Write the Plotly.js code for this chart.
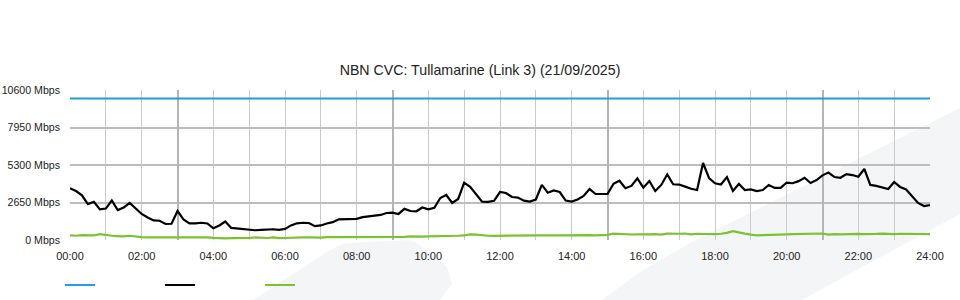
<!DOCTYPE html>
<html>
<head>
<meta charset="utf-8">
<script src="https://cdn.plot.ly/plotly-3.0.1.min.js"></script>
<style>html,body{margin:0;padding:0;background:#fff;}#chart{width:960px;height:300px;}</style>
</head>
<body>
<div id="chart"></div>
<script>
// Sample times: every 10 minutes, in hours from 00:00 to 24:00
const sampleStepMinutes = 10;
const sampleCount = 145;
const times = [];
for (let i = 0; i < sampleCount; i++) times.push(i * sampleStepMinutes / 60);

// Download traffic (Mbps)
const traffic = [
  3650,3460,3160,2540,2700,2160,2220,2790,2120,2300,2620,2260,1840,
  1590,1380,1360,1130,1150,2050,1450,1170,1180,1220,1170,830,
  1030,1310,850,810,760,760,690,710,740,760,710,780,
  1030,1180,1220,1200,980,1030,1170,1260,1460,1460,1480,1490,
  1620,1660,1680,1770,1910,1930,1840,2200,2050,2030,2300,2170,
  2280,2970,3180,2620,2900,4050,3750,3250,2710,2700,2770,3390,
  3320,3040,3000,2780,2720,2860,3890,3340,3500,3390,2790,2710,
  2860,3110,3600,3250,3240,3250,3970,4190,3660,3820,4360,3700,
  4170,3460,3890,4640,3940,3920,3770,3620,3530,5440,4380,4010,
  3920,4450,3460,3960,3530,3570,3460,3530,3890,3680,3680,4060,
  4010,4160,4400,4030,4240,4570,4770,4450,4400,4660,4590,4470,
  5020,3890,3820,3710,3600,4100,3750,3570,3110,2620,2400,2470
];

// Upload traffic (Mbps)
const upload = [
  330,300,350,360,320,420,350,300,280,250,300,230,200,
  180,180,190,200,180,230,190,180,180,190,180,150,
  120,120,130,120,150,140,180,160,140,180,130,140,
  160,200,180,180,150,170,200,200,190,200,180,190,
  200,190,190,200,200,220,230,220,250,230,240,250,
  250,260,270,280,300,320,400,380,330,300,290,300,
  310,300,320,360,330,330,320,300,320,330,340,320,
  330,330,350,320,330,360,450,420,380,390,400,380,
  400,420,380,450,420,440,460,400,440,420,420,420,
  440,500,620,560,450,380,330,340,350,380,340,400,
  420,420,420,430,420,460,380,420,400,420,450,430,
  420,410,430,450,420,420,440,430,450,400,410,420
];

// Link capacity (Mbps)
const capacityTimes = [0, 24];
const capacity = [10000, 10000];

// Axis ticks
const yTickVals = [0, 2650, 5300, 7950, 10600];
const yTickText = ["0 Mbps", "2650 Mbps", "5300 Mbps", "7950 Mbps", "10600 Mbps"];
const xTickVals = [0,1,2,3,4,5,6,7,8,9,10,11,12,13,14,15,16,17,18,19,20,21,22,23,24];
const xTickText = ["00:00","","02:00","","04:00","","06:00","","08:00","","10:00","","12:00","","14:00","","16:00","","18:00","","20:00","","22:00","","24:00"];
const xStrongGrid = [3, 9, 15, 21];

const titleText = "NBN CVC: Tullamarine (Link 3) (21/09/2025)";

const font = "Liberation Sans, Arial, sans-serif";

const traces = [
  {x: capacityTimes, y: capacity, type: "scatter", mode: "lines", name: "",
   line: {color: "#1ea0e0", width: 2}, xaxis: "x2", hoverinfo: "skip"},
  {x: times, y: traffic, type: "scatter", mode: "lines", name: "",
   line: {color: "#000000", width: 2.2}},
  {x: times, y: upload, type: "scatter", mode: "lines", name: "",
   line: {color: "#7cc230", width: 2.2}}
];

function wm(pts) {
  return "M" + pts.map(p => p[0] + "," + p[1]).join(" L") + " Z";
}
function px(x, y) { return [(x - 70) / 860, (240 - y) / 150]; }

const layout = {
  width: 960, height: 300,
  margin: {l: 70, r: 30, t: 90, b: 60},
  paper_bgcolor: "#ffffff",
  plot_bgcolor: "rgba(0,0,0,0)",
  font: {family: font, size: 11, color: "#222"},
  title: {text: titleText, x: 0.5, xref: "container", xanchor: "center",
          y: 1 - 70/300, yref: "container", yanchor: "middle",
          font: {family: font, size: 14.2, color: "#222"}},
  showlegend: true,
  legend: {orientation: "h", xref: "container", yref: "container",
           x: 60/960, xanchor: "left", y: 15/300, yanchor: "middle",
           entrywidth: 55, entrywidthmode: "pixels", font: {size: 11},
           bgcolor: "rgba(0,0,0,0)", itemclick: false},
  xaxis: {range: [0, 24], tickmode: "array", tickvals: xTickVals, ticktext: xTickText,
          showgrid: true, gridcolor: "#cacaca", gridwidth: 1, zeroline: false,
          showline: false, ticks: "", ticklabelstandoff: 8, automargin: false,
          tickfont: {family: font, size: 11, color: "#222"}, fixedrange: true},
  xaxis2: {range: [0, 24], overlaying: "x", tickmode: "array", tickvals: xStrongGrid,
           showgrid: true, gridcolor: "#b5b5b5", gridwidth: 2, showticklabels: false,
           zeroline: false, showline: false, ticks: ""},
  yaxis: {range: [0, 10600], tickmode: "array", tickvals: yTickVals, ticktext: yTickText,
          showgrid: true, gridcolor: "#bdbdbd", gridwidth: 2, zeroline: false,
          showline: false, ticks: "", ticklabelstandoff: 9, automargin: false,
          tickfont: {family: font, size: 10.6, color: "#222"}, fixedrange: true},
  shapes: [
    {type: "path", xref: "paper", yref: "paper", layer: "below", line: {width: 0},
     fillcolor: "#f4f5f7",
     path: wm([px(253,300), px(330,250), px(345,243), px(410,240), px(420,245), px(447,267), px(452,284), px(440,300)])},
    {type: "path", xref: "paper", yref: "paper", layer: "below", line: {width: 0},
     fillcolor: "#f4f5f7",
     path: wm([px(602,300), px(640,272), px(690,243), px(960,108), px(960,214), px(875,260), px(802,300)])}
  ]
};

Plotly.newPlot("chart", traces, layout, {displayModeBar: false, staticPlot: true});
</script>
</body>
</html>
